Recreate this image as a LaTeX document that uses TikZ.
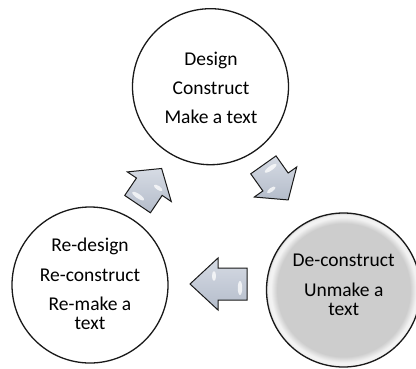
\documentclass[tikz,border=0pt]{standalone}
\usepackage{fontspec}
\setmainfont{Carlito}
\definecolor{greyfill}{RGB}{205,205,205}
\definecolor{greyrim}{RGB}{242,242,242}
\definecolor{arrowtop}{RGB}{214,219,228}
\definecolor{arrowbot}{RGB}{180,188,202}
\definecolor{outline}{RGB}{25,25,25}
\pgfdeclareradialshading{glossygrey}{\pgfpoint{0bp}{0bp}}{color(0bp)=(greyfill); color(21.6bp)=(greyfill); color(23.6bp)=(greyrim); color(24.5bp)=(greyrim); color(25bp)=(greyfill); color(50bp)=(greyfill)}
\tikzset{
  stage/.style={circle, draw=outline, line width=1.3pt, inner sep=0pt},
  linetext/.style={anchor=base, inner sep=0pt, font=\fontsize{19.5}{23}\selectfont, text=black},
  arrowbody/.style={draw=outline, line width=1pt, line join=miter, top color=arrowtop, bottom color=arrowbot},
  gloss/.style={fill=white, opacity=0.75},
}
% #1 name, #2 centre, #3 angle, #4 length, #5 head length, #6 shaft width, #7 head width
\newcommand{\cyclearrow}[7]{%
  \begin{scope}[shift={#2}, rotate=#3]
    \coordinate (#1) at (0,0);
    \path[arrowbody] (-#4/2,-#6/2) -- (#4/2-#5,-#6/2) -- (#4/2-#5,-#7/2) -- (#4/2,0)
      -- (#4/2-#5,#7/2) -- (#4/2-#5,#6/2) -- (-#4/2,#6/2) -- cycle;
    \fill[gloss] (-#4/2+7,-4) ellipse [x radius=2.2, y radius=7];
    \fill[gloss] (#4/2-#5+4,8) ellipse [x radius=2, y radius=5];
  \end{scope}}
\begin{document}
\begin{tikzpicture}[x=1pt,y=-1pt]
  \useasboundingbox (0,0) rectangle (416,368);
  \fill[white] (0,0) rectangle (416,368);
  \begin{scope}
    \clip (0,0) rectangle (416,368);
    \node[stage, minimum size=156pt, fill=white] (design) at (210.5,86.7) {};
    \node[stage, minimum size=156pt, fill=white] (redesign) at (90,285) {};
    \node[stage, minimum size=154pt, shading=glossygrey] (deconstruct) at (343.5,290) {};
  \end{scope}
  % texts
  \node[linetext] (d1) at (211,65) {Design};
  \node[linetext] (d2) at (211,94) {Construct};
  \node[linetext] (d3) at (211,123.3) {Make a text};
  \node[linetext] (c1) at (343.7,266) {De-construct};
  \node[linetext] (c2) at (343.7,296.7) {Unmake a};
  \node[linetext] (c3) at (343.7,315) {text};
  \node[linetext] (r1) at (90,251.7) {Re-design};
  \node[linetext] (r2) at (90,281) {Re-construct};
  \node[linetext] (r3) at (90,310) {Re-make a};
  \node[linetext] (r4) at (90,329.3) {text};
  % arrows
  \cyclearrow{arrowA}{(149.6,186.3)}{56}{43}{22}{31}{53}
  \cyclearrow{arrowB}{(275.8,182.4)}{-54.7}{43}{22}{31}{52}
  \cyclearrow{arrowC}{(218.5,284)}{180}{57}{28}{32}{52}
\end{tikzpicture}
\end{document}
